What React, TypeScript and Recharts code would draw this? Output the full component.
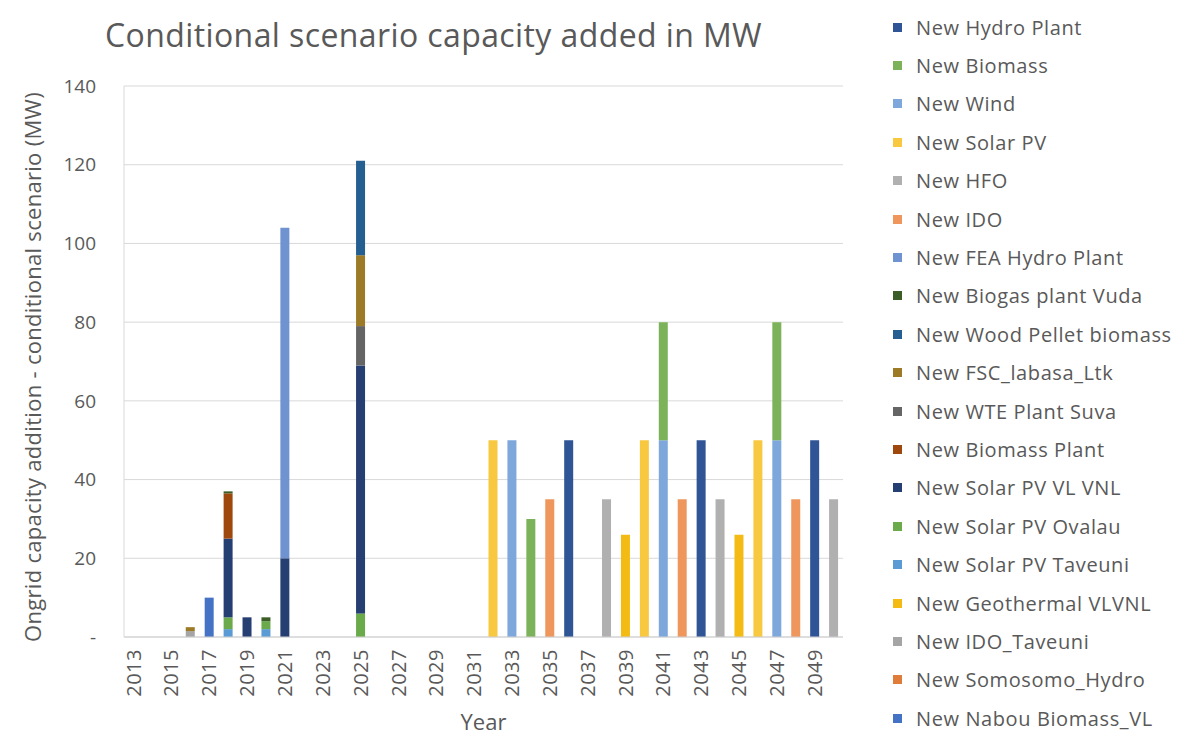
import React from 'react';
import { BarChart, Bar, XAxis, YAxis, CartesianGrid, Legend } from 'recharts';

const years: number[] = [];
for (let y = 2013; y <= 2050; y++) years.push(y);

const yTicks = [0, 20, 40, 60, 80, 100, 120, 140];

// series values as [year, MW]
const hydroPlant = [[2036, 50], [2043, 50], [2049, 50]];
const biomass = [[2034, 30], [2041, 30], [2047, 30]];
const wind = [[2033, 50], [2041, 50], [2047, 50]];
const solarPV = [[2032, 50], [2040, 50], [2046, 50]];
const hfo = [[2038, 35], [2044, 35], [2050, 35]];
const ido = [[2035, 35], [2042, 35], [2048, 35]];
const feaHydro = [[2021, 84]];
const biogasVuda = [[2018, 0.5], [2020, 1]];
const woodPellet = [[2025, 24]];
const fscLabasa = [[2016, 1], [2025, 18]];
const wteSuva = [[2025, 10]];
const biomassPlant = [[2018, 11.5]];
const solarVLVNL = [[2018, 20], [2019, 5], [2021, 20], [2025, 63]];
const solarOvalau = [[2018, 3], [2020, 2], [2025, 6]];
const solarTaveuni = [[2018, 2], [2020, 2]];
const geothermal = [[2039, 26], [2045, 26]];
const idoTaveuni = [[2016, 1.5]];
const somosomo: number[][] = [];
const nabou = [[2017, 10]];

const seriesNames = [
  'New Hydro Plant', 'New Biomass', 'New Wind', 'New Solar PV', 'New HFO', 'New IDO',
  'New FEA Hydro Plant', 'New Biogas plant Vuda', 'New Wood Pellet biomass', 'New FSC_labasa_Ltk',
  'New WTE Plant Suva', 'New Biomass Plant', 'New Solar PV VL VNL', 'New Solar PV Ovalau',
  'New Solar PV Taveuni', 'New Geothermal VLVNL', 'New IDO_Taveuni', 'New Somosomo_Hydro',
  'New Nabou Biomass_VL',
];
const seriesValues = [
  hydroPlant, biomass, wind, solarPV, hfo, ido, feaHydro, biogasVuda, woodPellet, fscLabasa,
  wteSuva, biomassPlant, solarVLVNL, solarOvalau, solarTaveuni, geothermal, idoTaveuni, somosomo, nabou,
];
const seriesColors = [
  '#2f5597', '#7cb35a', '#7ea8dc', '#f8c840', '#b0b0b0', '#ef965c',
  '#6f93d0', '#3b5e26', '#255e91', '#9c7a26',
  '#656565', '#9e480e', '#263f72', '#6aaa4a',
  '#5b9bd5', '#f3bb14', '#a5a5a5', '#e07c3a',
  '#4472c4',
];

const data = years.map((yr) => {
  const row: Record<string, any> = { year: String(yr) };
  seriesNames.forEach((name, i) => {
    const hit = seriesValues[i].find((p) => p[0] === yr);
    if (hit) row[name] = hit[1];
  });
  return row;
});

const FONT = '"Open Sans", sans-serif';
const TXT = '#595959';

const XTick = (props: any) => {
  const { x, y, payload } = props;
  return (
    <text
      x={x}
      y={y}
      transform={`rotate(-90, ${x}, ${y})`}
      textAnchor="end"
      dy="0.36em"
      fill={TXT}
      fontSize={20}
      letterSpacing={0.5}
      fontFamily={FONT}
    >
      {payload.value}
    </text>
  );
};

const YLabel = () => (
  <text
    x={33}
    y={367}
    transform="rotate(-90, 33, 367)"
    textAnchor="middle"
    dy="0.36em"
    fill={TXT}
    fontSize={22}
    letterSpacing={0.3}
    fontFamily={FONT}
  >
    Ongrid capacity addition - conditional scenario (MW)
  </text>
);

const renderLegend = () => (
  <div style={{ fontFamily: FONT, fontSize: 20, color: TXT, letterSpacing: 0.6 }}>
    {seriesNames.map((name, i) => (
      <div key={name} style={{ height: 38.4, display: 'flex', alignItems: 'center', whiteSpace: 'nowrap' }}>
        <span style={{ display: 'inline-block', width: 9, height: 9, background: seriesColors[i], marginLeft: 8, marginRight: 14 }} />
        <span>{name}</span>
      </div>
    ))}
  </div>
);

export default function App() {
  const order = seriesNames.map((_, i) => i).reverse();
  return (
    <div style={{ position: 'absolute', left: 0, top: 0, width: 1177, height: 735, background: '#fff' }}>
      <div
        style={{
          position: 'absolute', left: 105, top: 14, fontFamily: FONT, fontSize: 32, color: TXT,
          whiteSpace: 'nowrap', lineHeight: '42px', letterSpacing: 0.4, zIndex: 2,
        }}
      >
        Conditional scenario capacity added in MW
      </div>
      <BarChart
        width={1177}
        height={735}
        data={data}
        margin={{ top: 86, right: 44, bottom: 0, left: 0 }}
        barSize={9}
      >
        <CartesianGrid vertical={false} stroke="#d9d9d9" />
        <XAxis
          dataKey="year"
          interval={1}
          height={98}
          tick={<XTick />}
          tickLine={false}
          tickSize={0}
          tickMargin={12}
          axisLine={{ stroke: '#d0d0d0' }}
          label={{ value: 'Year', position: 'insideBottom', offset: 5, fill: TXT, fontSize: 22, fontFamily: FONT }}
        />
        <YAxis
          width={124}
          domain={[0, 140]}
          ticks={yTicks}
          tickFormatter={(v: number) => (v === 0 ? '-' : String(v))}
          tick={{ fill: TXT, fontSize: 19, fontFamily: FONT }}
          tickLine={false}
          tickSize={0}
          tickMargin={28}
          axisLine={{ stroke: '#d9d9d9' }}
          label={<YLabel />}
        />
        <Legend
          layout="vertical"
          align="right"
          verticalAlign="top"
          content={renderLegend}
          wrapperStyle={{ left: 885, top: 8, width: 290 }}
        />
        {order.map((i) => (
          <Bar
            key={seriesNames[i]}
            dataKey={seriesNames[i]}
            stackId="a"
            fill={seriesColors[i]}
            isAnimationActive={false}
          />
        ))}
      </BarChart>
    </div>
  );
}
